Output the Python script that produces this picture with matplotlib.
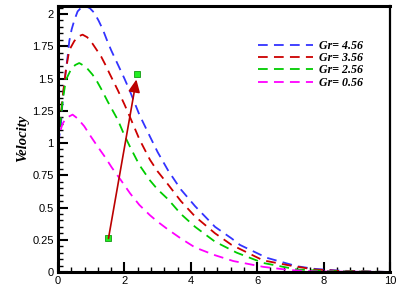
import matplotlib
matplotlib.use("Agg")
import matplotlib.pyplot as plt
from matplotlib.ticker import MultipleLocator, FixedFormatter, FixedLocator

plt.rcParams['lines.scale_dashes'] = False

labels = ["Gr= 4.56", "Gr= 3.56", "Gr= 2.56", "Gr= 0.56"]
colors = ["#3333ff", "#cc0000", "#00cc00", "#ff00ff"]

x_g456 = [0, 0.05, 0.09, 0.14, 0.19, 0.24, 0.29, 0.34, 0.41, 0.49, 0.59, 0.7, 0.84, 0.96, 1.09, 1.22, 1.35, 1.47, 1.60, 1.80, 2.0, 2.17, 2.45, 2.77, 3.0, 3.31, 3.7, 4.13, 4.73, 5.23, 5.48, 6.29, 7.19, 7.7, 8.5, 10]
y_g456 = [1.0, 1.07, 1.15, 1.33, 1.46, 1.57, 1.67, 1.79, 1.88, 1.95, 2.02, 2.05, 2.06, 2.045, 2.01, 1.95, 1.88, 1.80, 1.72, 1.61, 1.50, 1.40, 1.22, 1.05, 0.93, 0.79, 0.64, 0.51, 0.35, 0.26, 0.21, 0.11, 0.045, 0.025, 0.01, 0.0]

x_g356 = [0, 0.05, 0.14, 0.24, 0.34, 0.49, 0.6, 0.74, 0.88, 1.04, 1.17, 1.30, 1.42, 1.55, 1.80, 2.0, 2.17, 2.45, 2.77, 3.0, 3.31, 3.7, 4.13, 4.73, 5.23, 6.18, 6.99, 7.7, 8.5, 10]
y_g356 = [1.0, 1.12, 1.36, 1.57, 1.72, 1.79, 1.825, 1.84, 1.82, 1.77, 1.72, 1.67, 1.61, 1.54, 1.41, 1.30, 1.20, 1.03, 0.87, 0.78, 0.68, 0.55, 0.43, 0.30, 0.21, 0.09, 0.05, 0.02, 0.008, 0.0]

x_g256 = [0, 0.05, 0.14, 0.24, 0.39, 0.52, 0.64, 0.84, 1.04, 1.17, 1.30, 1.50, 1.80, 2.0, 2.17, 2.45, 2.77, 3.0, 3.31, 3.7, 4.13, 4.73, 5.38, 6.18, 7.19, 8.0, 10]
y_g256 = [1.0, 1.12, 1.33, 1.49, 1.57, 1.605, 1.62, 1.59, 1.53, 1.48, 1.42, 1.32, 1.18, 1.06, 0.97, 0.83, 0.71, 0.64, 0.565, 0.45, 0.35, 0.235, 0.15, 0.07, 0.02, 0.008, 0.0]

x_g056 = [0, 0.04, 0.09, 0.14, 0.21, 0.29, 0.44, 0.59, 0.79, 0.99, 1.20, 1.42, 1.62, 1.9, 2.17, 2.45, 2.77, 3.0, 3.31, 3.7, 4.13, 4.73, 5.28, 6.18, 6.99, 7.7, 10]
y_g056 = [0.98, 1.05, 1.11, 1.15, 1.18, 1.20, 1.22, 1.19, 1.13, 1.05, 0.97, 0.89, 0.81, 0.71, 0.61, 0.52, 0.44, 0.39, 0.33, 0.26, 0.19, 0.13, 0.085, 0.04, 0.015, 0.005, 0.0]

series_x = [x_g456, x_g356, x_g256, x_g056]
series_y = [y_g456, y_g356, y_g256, y_g056]

arrow_start = (1.52, 0.26)
arrow_end = (2.39, 1.535)

xticks = [0, 2, 4, 6, 8, 10]
xticklabels = ["0", "2", "4", "6", "8", "10"]
yticks = [0, 0.25, 0.5, 0.75, 1.0, 1.25, 1.5, 1.75, 2.0]
yticklabels = ["0", "0.25", "0.5", "0.75", "1", "1.25", "1.5", "1.75", "2"]

fig = plt.figure(figsize=(4.08, 2.94), dpi=100)
ax = fig.add_axes([58/408, 1-272/294, (390-58)/408, (272-5.5)/294])

for xs, ys, c, lab in zip(series_x, series_y, colors, labels):
    ax.plot(xs, ys, color=c, lw=1.3, dashes=(7, 4.5), label=lab)

ax.annotate("", xy=arrow_end, xytext=arrow_start,
            arrowprops=dict(arrowstyle="-|>,head_length=0.75,head_width=0.35",
                            color="#bb0000", lw=1.2, shrinkA=0, shrinkB=4))
ax.plot([arrow_start[0], arrow_end[0]], [arrow_start[1], arrow_end[1]], ls="none",
        marker="s", ms=5, mfc="#22ee22", mec="#119911", mew=0.6)

ax.set_xlim(0, 10)
ax.set_ylim(0, 2.066)
ax.xaxis.set_major_locator(FixedLocator(xticks))
ax.xaxis.set_major_formatter(FixedFormatter(xticklabels))
ax.xaxis.set_minor_locator(MultipleLocator(0.4))
ax.yaxis.set_major_locator(FixedLocator(yticks))
ax.yaxis.set_major_formatter(FixedFormatter(yticklabels))
ax.yaxis.set_minor_locator(MultipleLocator(0.05))

ax.tick_params(which="major", direction="in", length=7, width=1.5,
               labelsize=8, top=False, right=False, pad=3)
ax.tick_params(which="minor", direction="in", length=3.5, width=1,
               top=False, right=False)
for lbl in ax.get_xticklabels() + ax.get_yticklabels():
    lbl.set_family("Liberation Sans")

ax.spines["left"].set_linewidth(2.2)
ax.spines["bottom"].set_linewidth(2.2)
ax.spines["top"].set_linewidth(2.2)
ax.spines["right"].set_linewidth(1.6)

ax.set_ylabel("Velocity", family="Liberation Serif", style="italic",
              weight="bold", fontsize=10.5, labelpad=2)

leg = ax.legend(loc="upper right", bbox_to_anchor=(0.95, 0.912), frameon=False,
                handlelength=4.6, handletextpad=0.5, labelspacing=0.03,
                prop=dict(family="Liberation Serif", style="italic",
                          weight="bold", size=8.6))

fig.savefig("out.png", dpi=100)
